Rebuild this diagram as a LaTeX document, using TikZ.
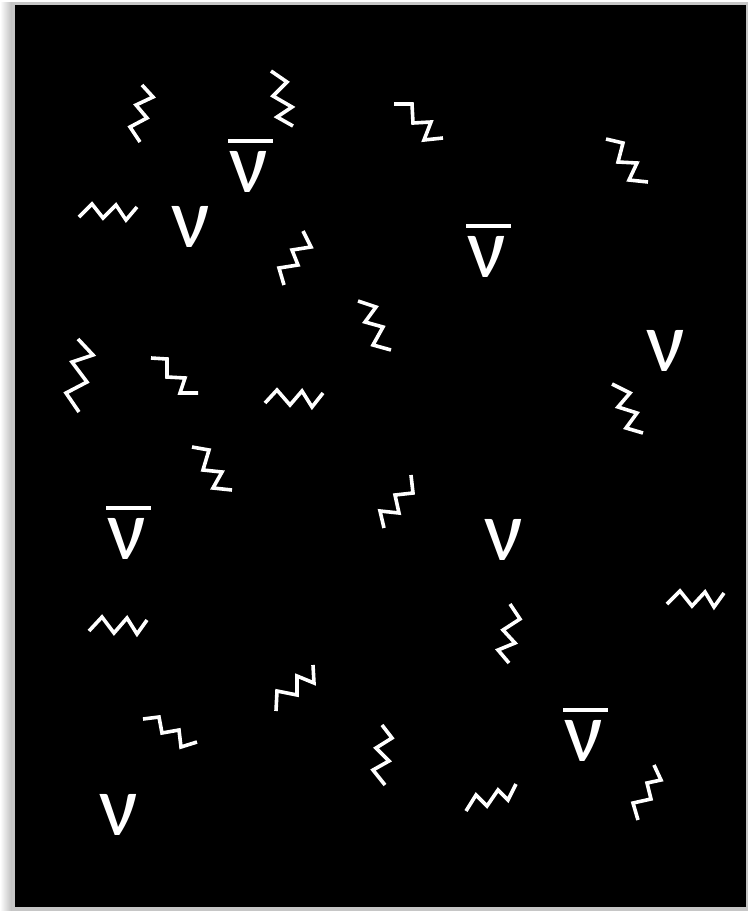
\documentclass[tikz,border=0pt]{standalone}
\usepackage{fontspec}
\newfontfamily\nufont{Carlito}
\begin{document}
\begin{tikzpicture}[x=1pt,y=-1pt,
  zz/.style={draw=white, line width=3.6pt},
  nu/.style={text=white, font=\nufont\fontsize{86}{86}\selectfont, inner sep=0pt, anchor=base},
  nubar/.style={draw=white, line width=3.8pt}]
\useasboundingbox (0,0) rectangle (748,911);
\fill[white] (0,0) rectangle (748,911);
\shade[left color=white,right color=gray!55] (0,2) rectangle (13,911);
\fill[gray!45] (12,2) rectangle (748,911);
\fill[black] (15,5) rectangle (746,907);
% photons
\draw[zz] (142,85)--(153,97)--(136,105)--(147,118)--(130,127)--(140,142);
\draw[zz] (271,71)--(287,82)--(273,96)--(292,107)--(277,117)--(293,126);
\draw[zz] (394,104)--(412,104)--(413,123)--(431,122)--(424,140)--(443,138);
\draw[zz] (303,231)--(311,247)--(292,250)--(298,265)--(279,268)--(284,285);
\draw[zz] (358,301)--(376,307)--(365,322)--(383,327)--(373,345)--(391,350);
\draw[zz] (79,217)--(92,204)--(103,218)--(116,205)--(126,220)--(137,207);
\draw[zz] (606,139)--(623,143)--(618,162)--(637,163)--(629,180)--(648,182);
\draw[zz] (612,384)--(630,393)--(618,407)--(637,413)--(626,428)--(643,433);
\draw[zz] (78,339)--(93,355)--(72,362)--(87,382)--(66,393)--(79,412);
\draw[zz] (151,358)--(167,359)--(167,377)--(185,378)--(180,393)--(198,393);
\draw[zz] (265,403)--(277,390)--(290,405)--(302,391)--(312,407)--(323,393);
\draw[zz] (192,447)--(209,450)--(203,470)--(222,472)--(213,488)--(232,490);
\draw[zz] (411,475)--(413,493)--(395,495)--(399,513)--(380,511)--(384,528);
\draw[zz] (510,604)--(520,619)--(503,630)--(515,643)--(498,650)--(509,663);
\draw[zz] (667,604)--(680,591)--(692,606)--(705,592)--(714,607)--(724,593);
\draw[zz] (89,631)--(102,617)--(114,633)--(127,618)--(137,634)--(147,620);
\draw[zz] (313,665)--(314,683)--(297,676)--(297,695)--(277,691)--(276,711);
\draw[zz] (143,719)--(159,717)--(162,733)--(179,730)--(181,747)--(197,742);
\draw[zz] (382,725)--(392,738)--(376,748)--(389,761)--(373,770)--(385,785);
\draw[zz] (466,811)--(476,795)--(487,806)--(498,790)--(508,800)--(516,784);
\draw[zz] (654,765)--(661,780)--(647,783)--(651,799)--(633,803)--(638,820);
% neutrinos
\node[nu] (n1) at (191,247) {ν};
\node[nu] (n2) at (666,371) {ν};
\node[nu] (n3) at (504,560) {ν};
\node[nu] (n4) at (119,835) {ν};
% antineutrinos
\node[nu] (a1) at (249,192) {ν};
\node[nu] (a2) at (487,277) {ν};
\node[nu] (a3) at (127,559) {ν};
\node[nu] (a4) at (584,761) {ν};
\foreach \a in {a1,a2,a3,a4}
  \draw[nubar] ([shift={(-21,-51)}]\a.base) -- ([shift={(24,-51)}]\a.base);
\end{tikzpicture}
\end{document}
